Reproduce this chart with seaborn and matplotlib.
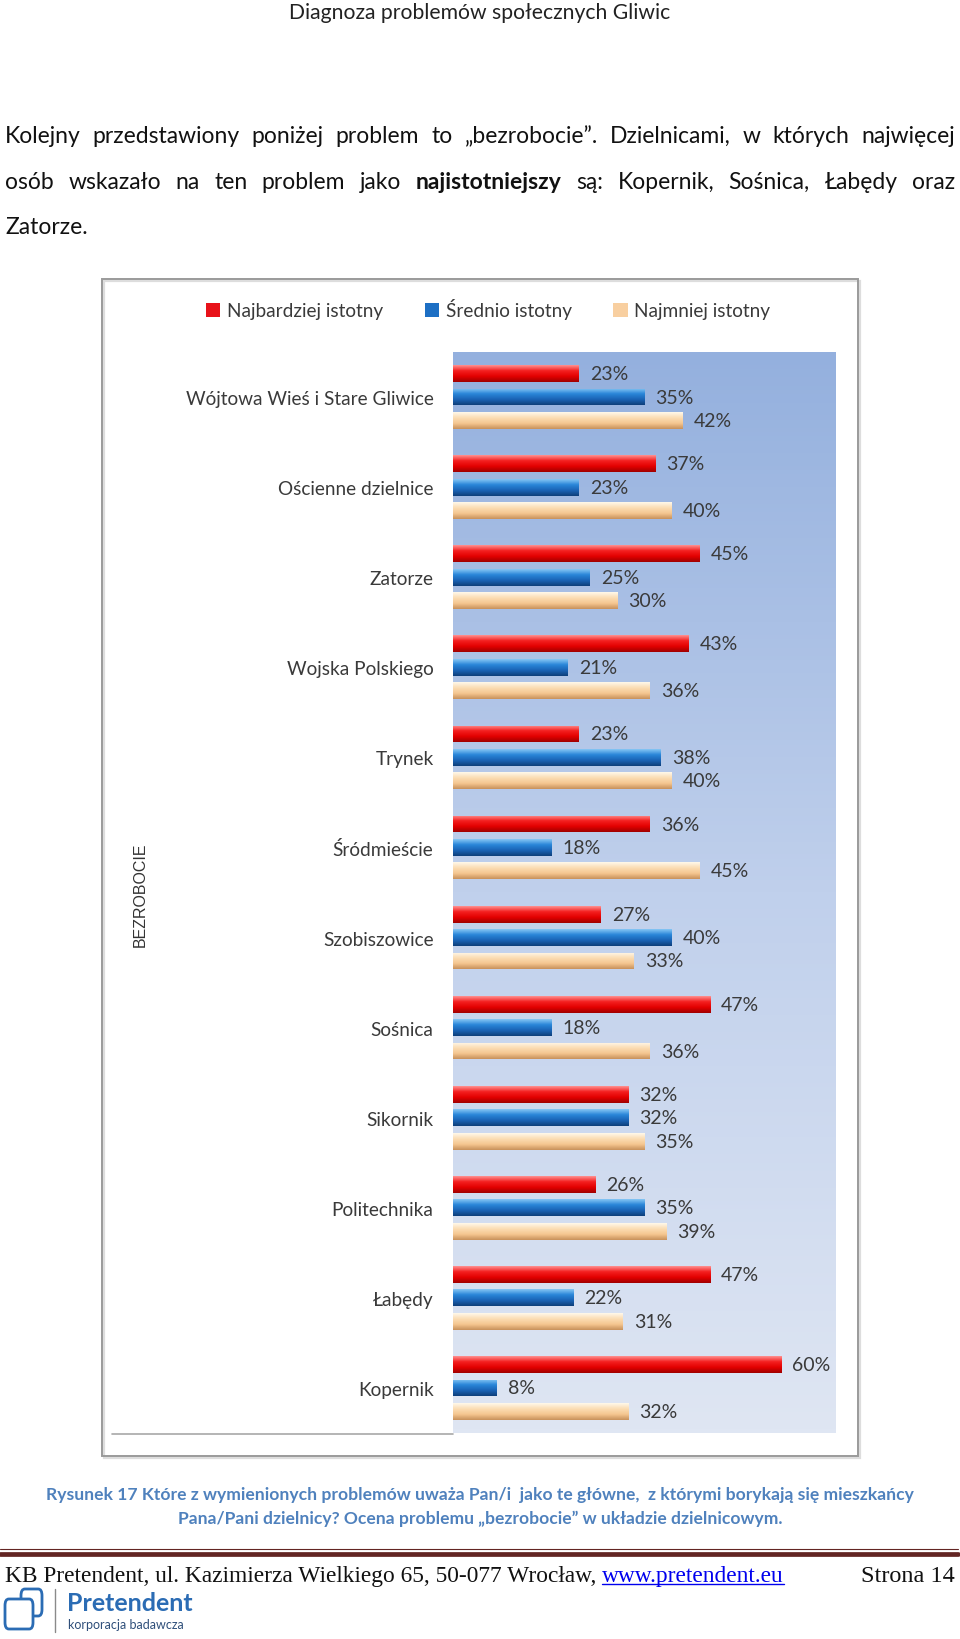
import numpy as np
import pandas as pd
import matplotlib
matplotlib.use('Agg')  # no display
import matplotlib.pyplot as plt
from matplotlib.colors import LinearSegmentedColormap
from matplotlib.patches import Rectangle, FancyBboxPatch
from matplotlib.lines import Line2D
import seaborn as sns

# ---- data ----
districts = ['Wójtowa Wieś i Stare Gliwice', 'Ościenne dzielnice', 'Zatorze',
             'Wojska Polskiego', 'Trynek', 'Śródmieście', 'Szobiszowice',
             'Sośnica', 'Sikornik', 'Politechnika', 'Łabędy', 'Kopernik']
najbardziej = [23, 37, 45, 43, 23, 36, 27, 47, 32, 26, 47, 60]
srednio = [35, 23, 25, 21, 38, 18, 40, 18, 32, 35, 22, 8]
najmniej = [42, 40, 30, 36, 40, 45, 33, 36, 35, 39, 31, 32]
levels = ['Najbardziej istotny', 'Średnio istotny', 'Najmniej istotny']
level_colors = ['#E8121A', '#1D6FC4', '#F8CFA0']
# top highlight -> body -> dark bottom, imitating the 3D bevel
bar_gradients = [['#FF9090', '#F42020', '#E30000', '#A00000'],
                 ['#86C6F5', '#2A86D8', '#1A63B5', '#0E3F7A'],
                 ['#FFF8EA', '#FBDDB4', '#F5C690', '#C8925C']]

df = pd.DataFrame({
    'Dzielnica': districts * 3,
    'Ocena': np.repeat(levels, len(districts)),
    'Procent': najbardziej + srednio + najmniej,
})

W, H = 960, 1640
def fx(px):
    return px / W
def fy(py):
    return 1 - py / H

sns.set_theme(style='white')
plt.rcParams['font.family'] = ['Lato', 'DejaVu Sans']
body_font = ['Lato', 'DejaVu Sans']

fig = plt.figure(figsize=(W / 100, H / 100), dpi=100)
fig.patch.set_facecolor('white')
renderer = fig.canvas.get_renderer()

# ---- page header and paragraph ----
fig.text(0.5, fy(13), 'Diagnoza problemów społecznych Gliwic', ha='center', va='center',
         fontsize=15.2, color='#222222')


def justify_line(words, y, x0, x1, size, bold=(), justify=True):
    texts = []
    for i, w in enumerate(words):
        t = fig.text(0, fy(y), w, fontsize=size, va='baseline', color='#111111',
                     family=body_font, fontweight='bold' if i in bold else 'normal')
        texts.append(t)
    widths = [t.get_window_extent(renderer).width for t in texts]
    gap = (x1 - x0 - sum(widths)) / (len(words) - 1) if justify else 0
    x = x0
    for t, w in zip(texts, widths):
        t.set_x(fx(x))
        x += w + gap


justify_line('Kolejny przedstawiony poniżej problem to „bezrobocie”.  Dzielnicami, w których najwięcej'.split(),
             143, 5, 955, 16.5)
justify_line('osób wskazało na ten problem jako najistotniejszy są: Kopernik, Sośnica, Łabędy oraz'.split(),
             189, 5, 955, 16.5, bold=(6,))
justify_line(['Zatorze.'], 234, 5, 955, 16.5, justify=False)

# ---- chart frame (with a faint shadow) ----
fig.add_artist(Rectangle((fx(104), fy(1459)), fx(860) - fx(104), fy(282) - fy(1459),
                         transform=fig.transFigure, fill=False, edgecolor='#DDDDDD', lw=1.6))
fig.add_artist(Rectangle((fx(102), fy(1457)), fx(858) - fx(102), fy(280) - fy(1457),
                         transform=fig.transFigure, fill=False, edgecolor='#9A9A9A', lw=1.4))

ax = fig.add_axes([fx(453), fy(1434), fx(836) - fx(453), fy(353) - fy(1434)])
sns.barplot(data=df, y='Dzielnica', x='Procent', hue='Ocena', palette=level_colors,
            orient='h', width=0.78, gap=0.28, saturation=1, linewidth=0, ax=ax)
ylim = (len(districts) - 0.5, -0.5)

# plot-area background gradient
bg_cmap = LinearSegmentedColormap.from_list('bg', ['#94B0DE', '#C0D0EC', '#DFE6F3'])
ax.imshow(np.linspace(0, 1, 256).reshape(-1, 1), cmap=bg_cmap, aspect='auto',
          extent=(0, 70, ylim[0], ylim[1]), origin='upper', zorder=0)

# bevelled bars
grad = np.linspace(0, 1, 64).reshape(-1, 1)
for cont, stops in zip(ax.containers, bar_gradients):
    cmap = LinearSegmentedColormap.from_list('bar', stops)
    for bar in cont:
        x0, y0 = bar.get_x(), bar.get_y()
        w, h = bar.get_width(), bar.get_height()
        im = ax.imshow(grad, cmap=cmap, aspect='auto', origin='upper',
                       extent=(x0, x0 + w, y0 + h, y0), zorder=2)
        im.set_clip_path(bar)
    ax.bar_label(cont, labels=[f'{int(v)}%' for v in cont.datavalues], padding=8,
                 fontsize=14, color='#3A3A3A', zorder=3)

ax.set_xlim(0, 70)
ax.set_ylim(*ylim)
ax.set_xticks([])
ax.set_xlabel('')
ax.set_ylabel('')
ax.tick_params(axis='y', length=0, pad=14, labelsize=13.7, labelcolor='#3A3A3A')
sns.despine(ax=ax, left=True, bottom=True)

sns.move_legend(ax, 'center', bbox_to_anchor=(fx(488), fy(310)), bbox_transform=fig.transFigure,
                ncol=3, frameon=False, title=None, fontsize=13.7, handlelength=0.75,
                handleheight=0.75, columnspacing=2.2, handletextpad=0.35)
for t in ax.get_legend().get_texts():
    t.set_color('#3A3A3A')

fig.add_artist(Line2D([fx(112), fx(453)], [fy(1434.5)] * 2, color='#A8A8A8', lw=1.2))
fig.text(fx(140), fy(895), 'BEZROBOCIE', rotation=90, ha='center', va='center',
         fontsize=11.5, color='#333333', family=['Liberation Sans', 'DejaVu Sans'])

# ---- caption ----
cap_color = '#4F81BD'
fig.text(0.5, fy(1495), 'Rysunek 17 Które z wymienionych problemów uważa Pan/i  jako te główne,  '
         'z którymi borykają się mieszkańcy', ha='center', va='center', fontsize=12.6,
         fontweight='bold', color=cap_color)
fig.text(0.5, fy(1519), 'Pana/Pani dzielnicy? Ocena problemu „bezrobocie” w układzie dzielnicowym.',
         ha='center', va='center', fontsize=12.6, fontweight='bold', color=cap_color)

# ---- footer ----
fig.add_artist(Line2D([0, fx(958)], [fy(1550)] * 2, color='#632523', lw=0.8))
fig.add_artist(Line2D([0, fx(958)], [fy(1554.5)] * 2, color='#632523', lw=3.4))
serif = ['Liberation Serif', 'DejaVu Serif']
t1 = fig.text(fx(5), fy(1582), 'KB Pretendent, ul. Kazimierza Wielkiego 65, 50-077 Wrocław, ',
              fontsize=16.8, family=serif, va='baseline', color='#111111')
x_link = 5 + t1.get_window_extent(renderer).width
link = fig.text(fx(x_link), fy(1582), 'www.pretendent.eu', fontsize=16.8, family=serif,
                va='baseline', color='#0000EE')
lw_px = link.get_window_extent(renderer).width
fig.add_artist(Line2D([fx(x_link), fx(x_link + lw_px)], [fy(1585)] * 2, color='#0000EE', lw=1))
fig.text(fx(955), fy(1582), 'Strona 14', fontsize=17.5, family=serif, va='baseline', ha='right',
         color='#111111')

# logo
logo_blue = '#2B6CB4'
fig.add_artist(FancyBboxPatch((fx(21), fy(1617)), fx(42) - fx(21), fy(1590) - fy(1617),
                              boxstyle='round,pad=0,rounding_size=0.004', transform=fig.transFigure,
                              fill=False, edgecolor=logo_blue, lw=2))
fig.add_artist(FancyBboxPatch((fx(5), fy(1630)), fx(33) - fx(5), fy(1600) - fy(1630),
                              boxstyle='round,pad=0,rounding_size=0.004', transform=fig.transFigure,
                              facecolor='white', edgecolor=logo_blue, lw=2))
fig.add_artist(Line2D([fx(55), fx(55)], [fy(1590), fy(1633)], color='#8A8A8A', lw=1))
fig.text(fx(67), fy(1604), 'Pretendent', fontsize=18, fontweight='bold', color=logo_blue,
         va='center')
fig.text(fx(68), fy(1625), 'korporacja badawcza', fontsize=9, color='#2F4F7A', va='center')

fig.savefig('out.png', dpi=100, facecolor='white')
